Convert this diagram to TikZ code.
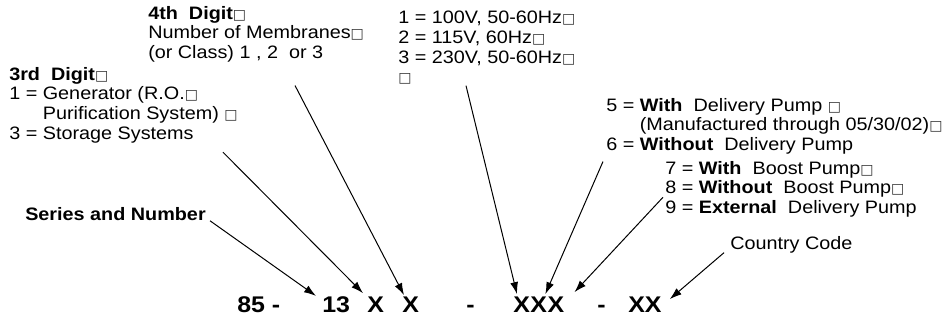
\documentclass[tikz,border=0pt]{standalone}
\usepackage{fontspec}
\setmainfont{Liberation Sans}[FakeStretch=1.1]
\newfontfamily\boxfont{DejaVu Sans}
\usetikzlibrary{arrows.meta,calc}
\newcommand{\nb}{{\boxfont\fontsize{10.5}{10.5}\selectfont\textcolor{black!80}{\char"25A1}}}

\begin{document}
\begin{tikzpicture}[x=0.75pt, y=-0.75pt,
    lbl/.style={anchor=north west, inner sep=0pt, align=left, font=\fontsize{13.5}{14.7}\selectfont},
    code/.style={anchor=base west, inner sep=0pt, font=\fontsize{17}{20}\selectfont\bfseries},
    ptr/.style={-{Latex[length=9pt,width=6pt]}, line width=0.75pt}]
    \useasboundingbox (0,0) rectangle (948,329);

    % Digit descriptions
    \node[lbl] (fourth) at (148,6) {\textbf{4th\ \ Digit}\nb \\ Number of Membranes\nb \\ (or Class) 1 , 2\ \ or 3};
    \node[lbl] (thrd) at (9,67) {\textbf{3rd\ \ Digit}\nb \\ 1 = Generator (R.O.\nb \\ \phantom{1 = }Purification System) \nb \\ 3 = Storage Systems};
    \node[lbl] (volt) at (398,11) {1 = 100V, 50-60Hz\nb \\ 2 = 115V, 60Hz\nb \\ 3 = 230V, 50-60Hz\nb \\ \nb};
    \node[lbl] (deliv) at (606,98) {5 = \textbf{With}\ \ Delivery Pump \nb \\ \phantom{5 = }(Manufactured through 05/30/02)\nb \\ 6 = \textbf{Without}\ \ Delivery Pump};
    \node[lbl] (boost) at (665,161) {7 = \textbf{With}\ \ Boost Pump\nb \\ 8 = \textbf{Without}\ \ Boost Pump\nb \\ 9 = \textbf{External}\ \ Delivery Pump};
    \node[lbl, font=\fontsize{13.5}{14.7}\selectfont\bfseries] (series) at (25,207) {Series and Number};
    \node[lbl] (country) at (730,236) {Country Code};

    % Model number
    \node[code] (n85) at (237,312) {85 -};
    \node[code] (n13) at (322,312) {13};
    \node[code] (dthree) at (367,312) {X};
    \node[code] (dfour) at (402,312) {X};
    \node[code] (dasha) at (466,312) {-};
    \node[code] (va) at (513,312) {X};
    \node[code] (vb) at (va.base east) {X};
    \node[code] (vc) at (vb.base east) {X};
    \node[code] (dashb) at (597,312) {-};
    \node[code] (cc) at (628,312) {XX};

    % Pointers
    \draw[ptr] ($(series.south east)+(4,0)$) -- ($(n13.north west)+(-6,0)$);
    \draw[ptr] ($(thrd.south east)+(-15,9)$) -- ($(dthree.north west)+(-4,-3)$);
    \draw[ptr] ($(fourth.south west)+(147,23)$) -- ($(dfour.north west)+(2,-1)$);
    \draw[ptr] ($(volt.south west)+(68,1)$) -- ($(va.north west)+(4,-2)$);
    \draw[ptr] ($(deliv.south west)+(-3,7)$) -- ($(vb.north east)+(-2,-2)$);
    \draw[ptr] ($(boost.west)+(-2,8)$) -- ($(vc.north east)+(10,-4)$);
    \draw[ptr] ($(country.west)+(-6,8)$) -- ($(cc.north east)+(8,3)$);
\end{tikzpicture}
\end{document}
